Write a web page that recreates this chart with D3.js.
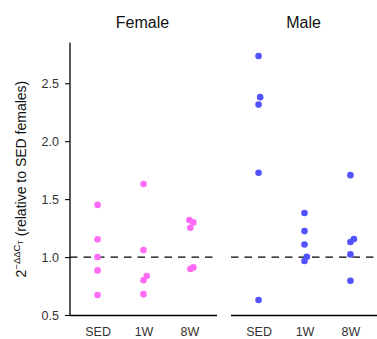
<!DOCTYPE html>
<html><head><meta charset="utf-8">
<script src="https://cdn.jsdelivr.net/npm/d3@7"></script>
<style>
body{margin:0;background:#fff;}
svg{display:block;font-family:"Liberation Sans",Arial,Helvetica,sans-serif;}
</style></head>
<body><svg id="c" width="377" height="339"></svg>
<script>
const panels = ["Female", "Male"];
const categories = ["SED", "1W", "8W"];
const yTicks = [0.5, 1.0, 1.5, 2.0, 2.5];
const refLine = 1.0;
// values per panel, per category
const femaleSED = [1.45, 1.153, 1.0, 0.885, 0.672];
const female1W  = [1.63, 1.06, 0.836, 0.80, 0.68];
const female8W  = [1.319, 1.299, 1.253, 0.911, 0.897];
const maleSED   = [2.735, 2.38, 2.316, 1.727, 0.63];
const male1W    = [1.38, 1.224, 1.109, 1.003, 0.966];
const male8W    = [1.707, 1.155, 1.13, 1.023, 0.796];
// horizontal jitter, in fraction of category step
const femaleSEDj = [0, 0, 0, 0, 0];
const female1Wj  = [0, 0, 0.07, 0, 0];
const female8Wj  = [0, 0.085, 0.02, 0.085, 0.02];
const maleSEDj   = [0, 0.035, 0, 0, 0];
const male1Wj    = [0, 0, 0, 0.05, 0];
const male8Wj    = [0, 0.075, 0, 0, 0];
const colors = {Female: "#ff6bf6", Male: "#5252ff"};

const data = {
  Female: [[femaleSED, femaleSEDj], [female1W, female1Wj], [female8W, female8Wj]],
  Male: [[maleSED, maleSEDj], [male1W, male1Wj], [male8W, male8Wj]]
};

const svg = d3.select("#c");
const plotTop = 42.7, plotBottom = 315.5;
const y = d3.scaleLinear().domain([0.5, 2.85]).range([315, plotTop]);
const panelX = {Female: [70, 217], Male: [231, 378]};

// y axis
const yAxis = d3.axisLeft(y).tickValues(yTicks).tickFormat(d3.format(".1f")).tickSize(5).tickPadding(6);
const ga = svg.append("g").attr("transform", "translate(70,0)").call(yAxis);
ga.select(".domain").remove();
ga.append("line").attr("x1", 0).attr("x2", 0).attr("y1", plotTop).attr("y2", plotBottom)
  .attr("stroke", "#000").attr("stroke-width", 1.3);
ga.selectAll(".tick line").attr("stroke", "#000").attr("stroke-width", 1.1);
ga.selectAll(".tick text").attr("fill", "#333").style("font-size", "12.5px");

panels.forEach(p => {
  const [x0, x1] = panelX[p];
  const x = d3.scalePoint().domain(categories).range([x0, x1]).padding(0.6);
  const step = x.step();
  // x axis
  const gx = svg.append("g").attr("transform", `translate(0,${plotBottom})`)
    .call(d3.axisBottom(x).tickSize(0).tickPadding(12));
  gx.select(".domain").attr("stroke", "#000").attr("stroke-width", 1.3)
    .attr("d", `M${x0},0H${x1}`);
  gx.selectAll(".tick text").attr("fill", "#333").style("font-size", "12.5px");
  // reference line
  svg.append("line").attr("x1", x0).attr("x2", x1 - 2)
    .attr("y1", y(refLine)).attr("y2", y(refLine))
    .attr("stroke", "#000").attr("stroke-width", 1.3).attr("stroke-dasharray", "7.5,6");
  // title
  svg.append("text").attr("x", (x0 + x1) / 2 - 1).attr("y", 28).attr("text-anchor", "middle")
    .style("font-size", "16px").attr("fill", "#111").text(p);
  // points
  data[p].forEach(([vals, jit], i) => {
    svg.append("g").selectAll("circle").data(vals).join("circle")
      .attr("cx", (d, k) => x(categories[i]) + jit[k] * step)
      .attr("cy", d => y(d))
      .attr("r", 3.3)
      .attr("fill", colors[p]);
  });
});

// y axis title
const yt = svg.append("text")
  .attr("transform", `translate(26,${(plotTop + plotBottom) / 2}) rotate(-90)`)
  .attr("text-anchor", "middle").style("font-size", "14px").attr("fill", "#111");
yt.append("tspan").text("2");
yt.append("tspan").attr("dy", -6).style("font-size", "9.5px").text("\u2212\u0394\u0394C");
yt.append("tspan").attr("dy", 3).style("font-size", "7px").text("T");
yt.append("tspan").attr("dy", 3).text(" (relative to SED females)");
</script></body></html>
